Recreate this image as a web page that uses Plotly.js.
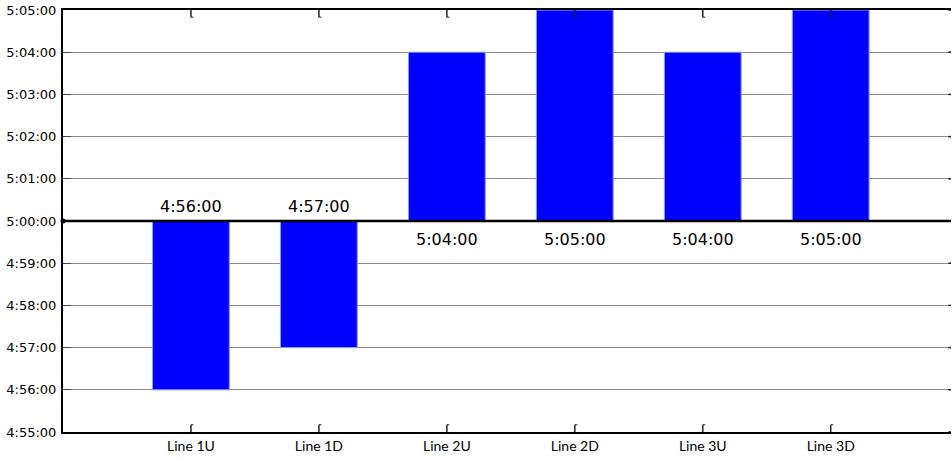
<!DOCTYPE html>
<html>
<head>
<meta charset="utf-8">
<script src="https://cdn.plot.ly/plotly-3.0.1.min.js"></script>
<style>html,body{margin:0;padding:0;background:#fff;}#chart{width:952px;height:461px;}</style>
</head>
<body>
<div id="chart"></div>
<script>
// Data
var categories = ['Line 1U', 'Line 1D', 'Line 2U', 'Line 2D', 'Line 3U', 'Line 3D'];
var times = ['4:56:00', '4:57:00', '5:04:00', '5:05:00', '5:04:00', '5:05:00'];
var baseTime = '5:00:00';
var yTickLabels = ['4:55:00', '4:56:00', '4:57:00', '4:58:00', '4:59:00', '5:00:00',
                   '5:01:00', '5:02:00', '5:03:00', '5:04:00', '5:05:00'];

function toSec(t) {
  var p = t.split(':').map(Number);
  return p[0] * 3600 + p[1] * 60 + p[2];
}

var base = toSec(baseTime);
var xIdx = categories.map(function (c, i) { return i; });
var tickVals = yTickLabels.map(toSec);
var xRange = [-1, 5.94];

var bars = {
  type: 'bar',
  x: xIdx,
  y: times.map(function (t) { return toSec(t) - base; }),
  base: base,
  width: 0.6,
  marker: { color: '#0000ff', line: { color: '#8fa0ff', width: 1 } },
  hoverinfo: 'skip'
};

var dot = {
  type: 'scatter',
  mode: 'markers',
  x: [xRange[0]],
  y: [base],
  marker: { color: '#000', size: 5 },
  cliponaxis: false,
  hoverinfo: 'skip'
};

var annotations = times.map(function (t, i) {
  var below = toSec(t) < base;
  return {
    x: i, y: base, xref: 'x', yref: 'y',
    text: t, showarrow: false,
    yanchor: below ? 'bottom' : 'top',
    yshift: below ? 3 : -7,
    font: { family: 'DejaVu Sans', size: 16, color: '#000' }
  };
});

var shapes = [{
  type: 'line', xref: 'paper', yref: 'y',
  x0: 0, x1: 1, y0: base, y1: base,
  line: { color: '#000', width: 2.5 }
}];
xIdx.forEach(function (i) {
  // bottom tick mark
  shapes.push({ type: 'line', xref: 'x', yref: 'paper', x0: i, x1: i, y0: 0, y1: 0.017,
                line: { color: '#222', width: 1.5 } });
  shapes.push({ type: 'line', xref: 'x', yref: 'paper', x0: i, x1: i + 0.02, y0: 0.017, y1: 0.017,
                line: { color: '#222', width: 1 } });
  // top tick mark
  shapes.push({ type: 'line', xref: 'x', yref: 'paper', x0: i, x1: i, y0: 1, y1: 0.983,
                line: { color: '#222', width: 1.5 } });
  shapes.push({ type: 'line', xref: 'x', yref: 'paper', x0: i, x1: i + 0.02, y0: 0.983, y1: 0.983,
                line: { color: '#222', width: 1 } });
});
tickVals.forEach(function (v) {
  shapes.push({ type: 'line', xref: 'paper', yref: 'y', x0: 0.997, x1: 1, y0: v, y1: v,
                line: { color: '#222', width: 1.5 } });
});

var layout = {
  width: 952, height: 461,
  margin: { l: 63, r: 1, t: 10, b: 29, pad: 0 },
  paper_bgcolor: '#fff', plot_bgcolor: '#fff',
  showlegend: false,
  xaxis: {
    range: xRange,
    tickvals: xIdx,
    ticktext: categories,
    ticks: '',
    showline: true, linecolor: '#000', linewidth: 2,
    mirror: true,
    showgrid: false, zeroline: false,
    tickfont: { family: 'Lato', size: 14, color: '#000' },
    ticklabelstandoff: 0,
    fixedrange: true
  },
  yaxis: {
    range: [tickVals[0], tickVals[tickVals.length - 1]],
    tickvals: tickVals,
    ticktext: yTickLabels,
    ticks: 'inside', ticklen: 8, tickwidth: 1, tickcolor: '#444',
    showline: true, linecolor: '#000', linewidth: 2,
    showgrid: true, gridcolor: '#8c8c8c', gridwidth: 1,
    zeroline: false,
    tickfont: { family: 'DejaVu Sans', size: 13, color: '#000' },
    ticklabelstandoff: 2,
    fixedrange: true
  },
  shapes: shapes,
  annotations: annotations
};

Plotly.newPlot('chart', [bars, dot], layout, { staticPlot: true, displayModeBar: false });
</script>
</body>
</html>
